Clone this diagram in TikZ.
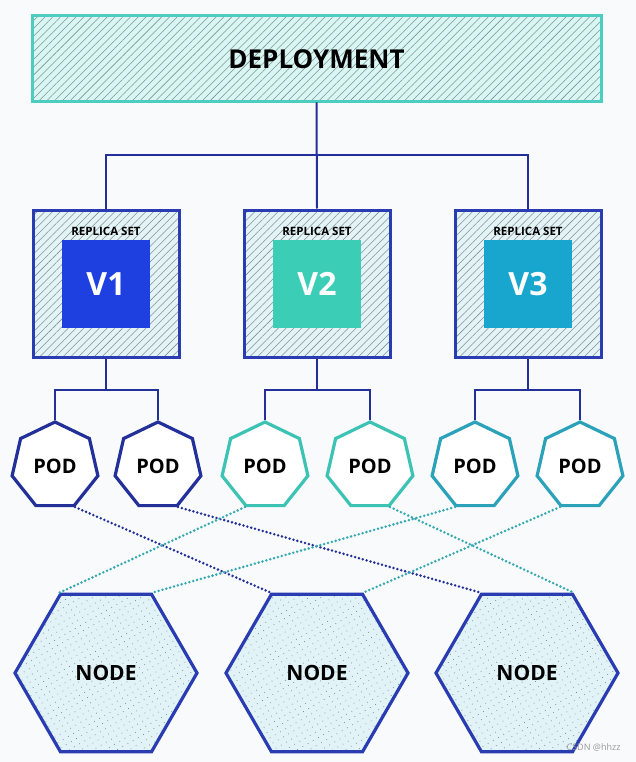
\documentclass[tikz,border=0pt]{standalone}
\usepackage{fontspec}
\setmainfont{Open Sans}
\usetikzlibrary{shapes.geometric,patterns.meta}
\definecolor{navy}{HTML}{24309A}
\definecolor{rsblue}{HTML}{2A3CB2}
\definecolor{depteal}{HTML}{4DCCC2}
\definecolor{depfill}{HTML}{D9F6F3}
\definecolor{rsfill}{HTML}{E4F3F6}
\definecolor{nodefill}{HTML}{E2F3F8}
\definecolor{hatch}{HTML}{7E9397}
\definecolor{vone}{HTML}{1F40E0}
\definecolor{vtwo}{HTML}{3CCDB7}
\definecolor{vthree}{HTML}{19A6CE}
\definecolor{podteal}{HTML}{3DC3B4}
\definecolor{podcyan}{HTML}{2BA2BA}
\definecolor{dotteal}{HTML}{35A9B2}
\definecolor{paper}{HTML}{F8FAFB}
\tikzset{
  conn/.style={draw=navy,line width=2pt},
  deploybox/.style={rectangle,draw=depteal,line width=3pt,minimum width=569pt,minimum height=86pt,
    preaction={fill=depfill},pattern={Lines[angle=45,distance=5.5pt,line width=0.55pt]},pattern color=hatch,
    font=\bfseries\fontsize{26}{26}\selectfont},
  rsbox/.style={rectangle,draw=rsblue,line width=3pt,minimum width=146pt,minimum height=147pt,
    preaction={fill=rsfill},pattern={Lines[angle=45,distance=5.5pt,line width=0.55pt]},pattern color=hatch},
  rslabel/.style={font=\bfseries\fontsize{11.5}{12}\selectfont,inner sep=0pt},
  version/.style={rectangle,minimum size=88pt,text=white,font=\bfseries\fontsize{32}{32}\selectfont},
  pod/.style={regular polygon,regular polygon sides=7,minimum size=88pt,inner sep=0pt,
    line width=3.2pt,fill=white,font=\bfseries\fontsize{20}{20}\selectfont},
  worker/.style={regular polygon,regular polygon sides=6,minimum size=182pt,inner sep=0pt,
    draw=rsblue,line width=3.2pt,preaction={fill=nodefill},
    pattern={Dots[angle=30,distance=6pt,radius=0.55pt]},pattern color=hatch,
    font=\bfseries\fontsize{21}{21}\selectfont},
  sched/.style={line width=2.8pt,dash pattern=on 0pt off 4pt,line cap=round}
}
\begin{document}
\begin{tikzpicture}[x=1pt,y=-1pt]
\fill[paper] (0,0) rectangle (636,762);
\useasboundingbox (0,0) rectangle (636,762);

\node[deploybox] (dep) at (316.5,59) {DEPLOYMENT};

\node[rsbox] (rs1) at (106,283.5) {};
\node[rsbox] (rs2) at (317,283.5) {};
\node[rsbox] (rs3) at (528,283.5) {};
\node[rslabel] (lab1) at (106,231) {REPLICA SET};
\node[rslabel] (lab2) at (317,231) {REPLICA SET};
\node[rslabel] (lab3) at (528,231) {REPLICA SET};
\node[version,fill=vone] (v1) at (106,284) {V1};
\node[version,fill=vtwo] (v2) at (317,284) {V2};
\node[version,fill=vthree] (v3) at (528,284) {V3};

\node[pod,draw=navy] (pod1) at (55,466) {POD};
\node[pod,draw=navy] (pod2) at (158,466) {POD};
\node[pod,draw=podteal] (pod3) at (265,466) {POD};
\node[pod,draw=podteal] (pod4) at (370,466) {POD};
\node[pod,draw=podcyan] (pod5) at (475,466) {POD};
\node[pod,draw=podcyan] (pod6) at (580,466) {POD};

\node[worker] (node1) at (106,673) {NODE};
\node[worker] (node2) at (317,673) {NODE};
\node[worker] (node3) at (527,673) {NODE};

\coordinate (bus) at (317,155);
\coordinate (fork1) at (106,390);
\coordinate (fork2) at (317,390);
\coordinate (fork3) at (528,390);

\draw[conn] (dep.south) -- (rs2.north);
\draw[conn] (rs1.north) |- (bus) -| (rs3.north);
\draw[conn] (rs1.south) -- (fork1);
\draw[conn] (rs2.south) -- (fork2);
\draw[conn] (rs3.south) -- (fork3);
\draw[conn] (pod1.north) |- (fork1) -| (pod2.north);
\draw[conn] (pod3.north) |- (fork2) -| (pod4.north);
\draw[conn] (pod5.north) |- (fork3) -| (pod6.north);

\draw[sched,navy] (pod1.-64) -- (node2.120);
\draw[sched,navy] (pod2.-64) -- (node3.120);
\draw[sched,dotteal] (pod3.-116) -- (node1.120);
\draw[sched,dotteal] (pod4.-64) -- (node3.60);
\draw[sched,dotteal] (pod5.-116) -- (node1.60);
\draw[sched,dotteal] (pod6.-116) -- (node2.60);

\node[text=gray!80,font=\fontsize{9}{9}\selectfont,anchor=east] (mark) at (624,747) {CSDN @hhzz};
\end{tikzpicture}
\end{document}
